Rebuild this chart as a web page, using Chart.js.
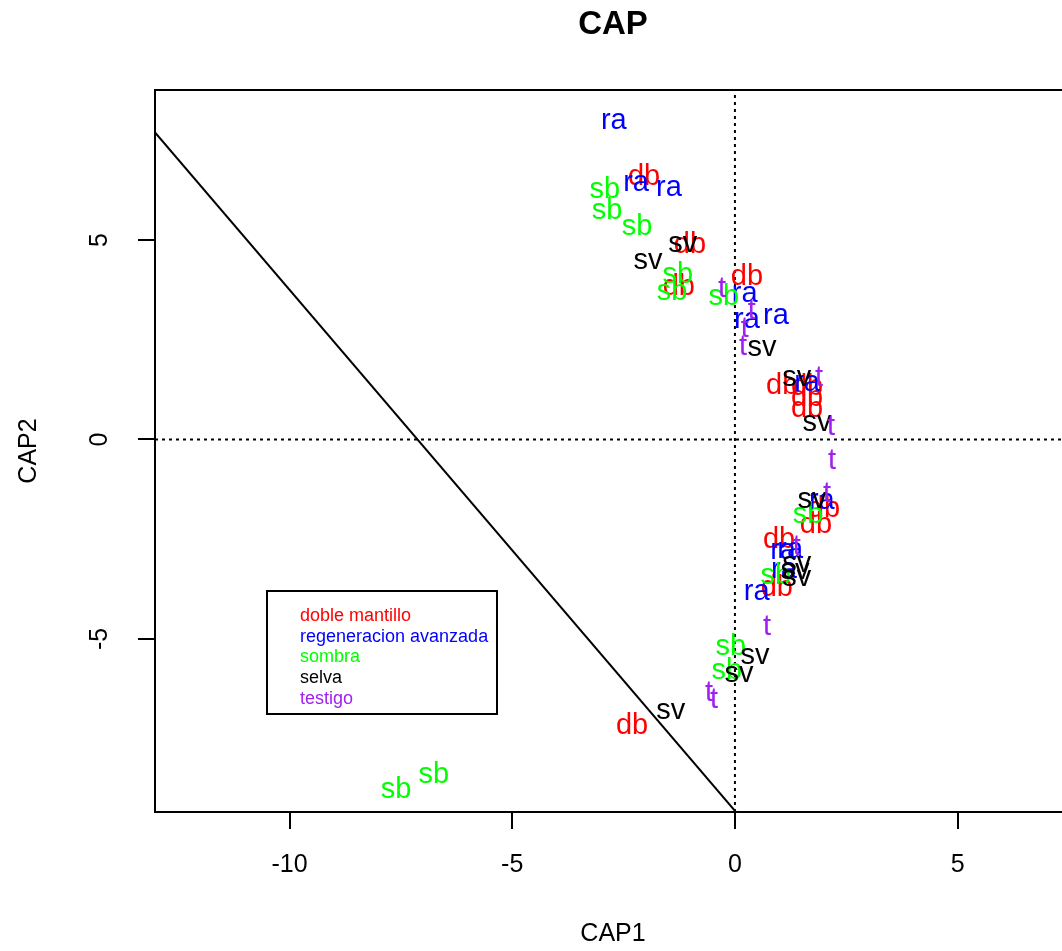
<!DOCTYPE html>
<html><head><meta charset="utf-8">
<script src="https://cdn.jsdelivr.net/npm/chart.js@4.4.0/dist/chart.umd.min.js"></script>
<style>
html,body{margin:0;padding:0;overflow:hidden;background:#fff;}
#wrap{width:1062px;height:951px;overflow:hidden;position:relative;}
canvas{display:block;}
</style></head><body>
<div id="wrap"><canvas id="c" width="1080" height="951"></canvas></div>
<script>
// ---- data ----
const groupNames  = ['doble mantillo', 'regeneracion avanzada', 'sombra', 'selva', 'testigo'];
const groupCodes  = ['db', 'ra', 'sb', 'sv', 't'];
const groupColors = ['#FF0000', '#0000FF', '#00FF00', '#000000', '#A020F0'];

const dbX = [-2.04, -1.01, -1.26, 0.27, 1.06, 1.62, 1.62, 1.62, 2.00, 1.82, 0.99, 0.94, -2.31];
const dbY = [ 6.58,  4.87,  3.82, 4.07, 1.34, 1.32, 1.04, 0.76, -1.74, -2.14, -2.52, -3.72, -7.18];

const raX = [-2.72, -2.22, -1.48, 0.22, 0.27, 0.92, 1.62, 1.95, 1.08, 1.24, 1.10, 0.49];
const raY = [ 7.98,  6.43,  6.30, 3.65, 3.00, 3.10, 1.42, -1.54, -2.79, -2.77, -3.27, -3.82];

const sbX = [-2.92, -2.87, -2.20, -1.28, -1.41, -0.25, 1.64, 0.92, -0.09, -0.18, -6.76, -7.61];
const sbY = [ 6.25,  5.73,  5.33,  4.12,  3.70,  3.57, -1.89, -3.42, -5.20, -5.80, -8.41, -8.78];

const svX = [-1.17, -1.95, 0.61, 1.39, 1.84, 1.73, 1.39, 1.35, 1.39, 0.45, 0.09, -1.44];
const svY = [ 4.90,  4.47, 2.29, 1.54, 0.41, -1.52, -3.12, -3.30, -3.47, -5.43, -5.88, -6.80];

const tX = [-0.29, 0.38, 0.22, 0.18, 1.89, 2.16, 2.18, 2.07, 1.39, 0.72, -0.58, -0.47];
const tY = [ 3.77, 3.22, 2.77, 2.32, 1.54, 0.31, -0.54, -1.37, -2.69, -4.70, -6.35, -6.53];

const xTicks = [-10, -5, 0, 5];
const yTicks = [-5, 0, 5];
const xMin = -13.02, xMax = 7.545;
const yMin = -9.34,  yMax = 8.76;

// reference line y = lineIntercept + lineSlope * x
const lineIntercept = -9.31;
const lineSlope = -1.306;

const groupX = [dbX, raX, sbX, svX, tX];
const groupY = [dbY, raY, sbY, svY, tY];

// ---- chart ----
const FONT = '"Liberation Sans", Arial, Helvetica, sans-serif';

const labelDatasets = groupCodes.map((code, g) => ({
  code: code,
  textColor: groupColors[g],
  data: groupX[g].map((x, i) => ({x: x, y: groupY[g][i]})),
  pointRadius: 0,
  showLine: false
}));

const lineDatasets = [
  { data: [{x: 0, y: yMin}, {x: 0, y: yMax}], showLine: true, borderColor: '#000', borderWidth: 2, borderDash: [3, 4], pointRadius: 0 },
  { data: [{x: xMin, y: 0}, {x: xMax, y: 0}], showLine: true, borderColor: '#000', borderWidth: 2, borderDash: [3, 4], pointRadius: 0 },
  { data: [{x: xMin, y: lineIntercept + lineSlope * xMin}, {x: xMax, y: lineIntercept + lineSlope * xMax}],
    showLine: true, borderColor: '#000', borderWidth: 2, pointRadius: 0 }
];

const textPlugin = {
  id: 'textLabels',
  afterDatasetsDraw(chart) {
    const ctx = chart.ctx;
    ctx.save();
    ctx.font = '29px ' + FONT;
    ctx.textAlign = 'center';
    ctx.textBaseline = 'middle';
    chart.data.datasets.forEach((ds, i) => {
      if (!ds.code) return;
      const meta = chart.getDatasetMeta(i);
      ctx.fillStyle = ds.textColor;
      meta.data.forEach(pt => ctx.fillText(ds.code, pt.x, pt.y));
    });
    ctx.restore();
  }
};

const framePlugin = {
  id: 'frame',
  afterDraw(chart) {
    const ctx = chart.ctx, a = chart.chartArea;
    ctx.save();
    ctx.strokeStyle = '#000';
    ctx.lineWidth = 2;
    ctx.strokeRect(a.left, a.top, a.right - a.left, a.bottom - a.top);
    // main title
    ctx.fillStyle = '#000';
    ctx.font = 'bold 33px ' + FONT;
    ctx.textAlign = 'center';
    ctx.textBaseline = 'middle';
    ctx.fillText('CAP', (a.left + a.right) / 2, 25);
    // legend
    ctx.lineWidth = 2;
    ctx.strokeRect(267, 591, 230, 123);
    ctx.font = '18px ' + FONT;
    ctx.textAlign = 'left';
    groupNames.forEach((name, g) => {
      ctx.fillStyle = groupColors[g];
      ctx.fillText(name, 300, 616 + g * 20.7);
    });
    ctx.restore();
  }
};

new Chart(document.getElementById('c'), {
  type: 'scatter',
  data: { datasets: lineDatasets.concat(labelDatasets) },
  options: {
    responsive: false,
    animation: false,
    layout: { padding: { top: 90, right: 9, left: 0, bottom: 0 } },
    plugins: { legend: { display: false }, tooltip: { enabled: false } },
    scales: {
      x: {
        type: 'linear', position: 'bottom', min: xMin, max: xMax,
        afterBuildTicks: s => { s.ticks = xTicks.map(v => ({value: v})); },
        afterFit: s => { s.height = 139; },
        grid: { drawOnChartArea: false, drawTicks: true, tickLength: 17, color: '#000', lineWidth: 2 },
        border: { display: false },
        ticks: { font: { family: FONT, size: 25 }, color: '#000', padding: 21, maxRotation: 0, minRotation: 0, autoSkip: false },
        title: { display: true, text: 'CAP1', color: '#000', font: { family: FONT, size: 25 }, padding: { top: 0, bottom: 2 } }
      },
      y: {
        type: 'linear', position: 'left', min: yMin, max: yMax,
        afterBuildTicks: s => { s.ticks = yTicks.map(v => ({value: v})); },
        afterFit: s => { s.width = 155; },
        grid: { drawOnChartArea: false, drawTicks: true, tickLength: 17, color: '#000', lineWidth: 2 },
        border: { display: false },
        ticks: { font: { family: FONT, size: 25 }, color: '#000', padding: 27, minRotation: 90, maxRotation: 90, crossAlign: 'center', autoSkip: false },
        title: { display: true, text: 'CAP2', color: '#000', font: { family: FONT, size: 25 }, padding: { top: 14, bottom: 0 } }
      }
    }
  },
  plugins: [textPlugin, framePlugin]
});
</script>
</body></html>
